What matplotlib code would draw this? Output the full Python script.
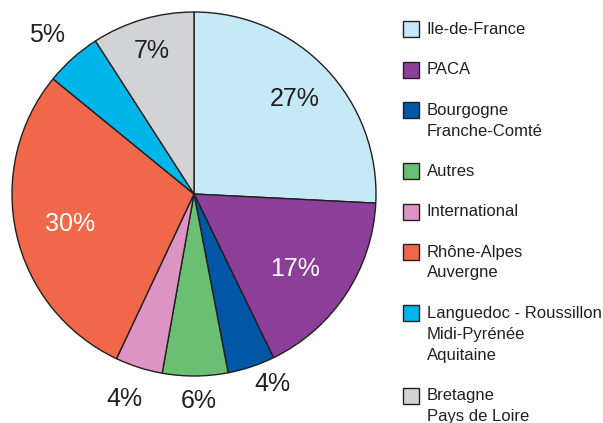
import matplotlib.pyplot as plt
from matplotlib.patches import Rectangle
import numpy as np

regions = ["Ile-de-France", "PACA", "Bourgogne\nFranche-Comté", "Autres",
           "International", "Rhône-Alpes\nAuvergne",
           "Languedoc - Roussillon\nMidi-Pyrénée\nAquitaine",
           "Bretagne\nPays de Loire"]
shares = [25.8, 17.0, 4.2, 5.8, 4.2, 28.9, 5.0, 9.1]
pct_labels = ["27%", "17%", "4%", "6%", "4%", "30%", "5%", "7%"]
colors = ["#c6e9f8", "#8b3f98", "#0057a6", "#6abf73",
          "#dc94c4", "#f0674a", "#00b5ea", "#d1d3d4"]
# label placement (radius in pie units, angle nudge in degrees)
label_dist = [0.76, 0.69, 1.13, 1.14, 1.19, 0.70, 1.19, 0.82]
label_nudge = [0, -3, 4, 1, -1, 1, 1, 0]
label_color = ["#231f20", "white", "#231f20", "#231f20",
               "#231f20", "white", "#231f20", "#231f20"]

plt.rcParams['font.family'] = ['Liberation Sans', 'DejaVu Sans']
W, H = 603, 423
fig = plt.figure(figsize=(W / 100, H / 100), dpi=100)

cx, cy, r = 194, 194, 182
ax = fig.add_axes([(cx - r) / W, (H - cy - r) / H, 2 * r / W, 2 * r / H])
wedges, _ = ax.pie(shares, colors=colors, startangle=90, counterclock=False,
                   radius=1.0, wedgeprops=dict(edgecolor="#231f20", linewidth=1.0))
ax.set_xlim(-1.0, 1.0)
ax.set_ylim(-1.0, 1.0)
ax.axis("off")

for w, lab, d, nd, c in zip(wedges, pct_labels, label_dist, label_nudge, label_color):
    ang = np.deg2rad((w.theta1 + w.theta2) / 2 + nd)
    ax.text(d * np.cos(ang), d * np.sin(ang), lab, ha="center", va="center",
            fontsize=18, color=c, clip_on=False)

# legend drawn by hand so the box lines up with the first text line
line_h = 21
gap = 40.3
y = 29.5
for name, col in zip(regions, colors):
    nlines = name.count("\n") + 1
    fig.patches.append(Rectangle((403 / W, (H - y - 8) / H), 16 / W, 16 / H,
                                 transform=fig.transFigure, facecolor=col,
                                 edgecolor="#231f20", linewidth=1.0))
    for i, part in enumerate(name.split("\n")):
        fig.text(427 / W, (H - y - i * line_h) / H, part, ha="left", va="center",
                 fontsize=12, color="#231f20")
    y += (nlines - 1) * line_h + gap

fig.savefig("out.png", dpi=100)
